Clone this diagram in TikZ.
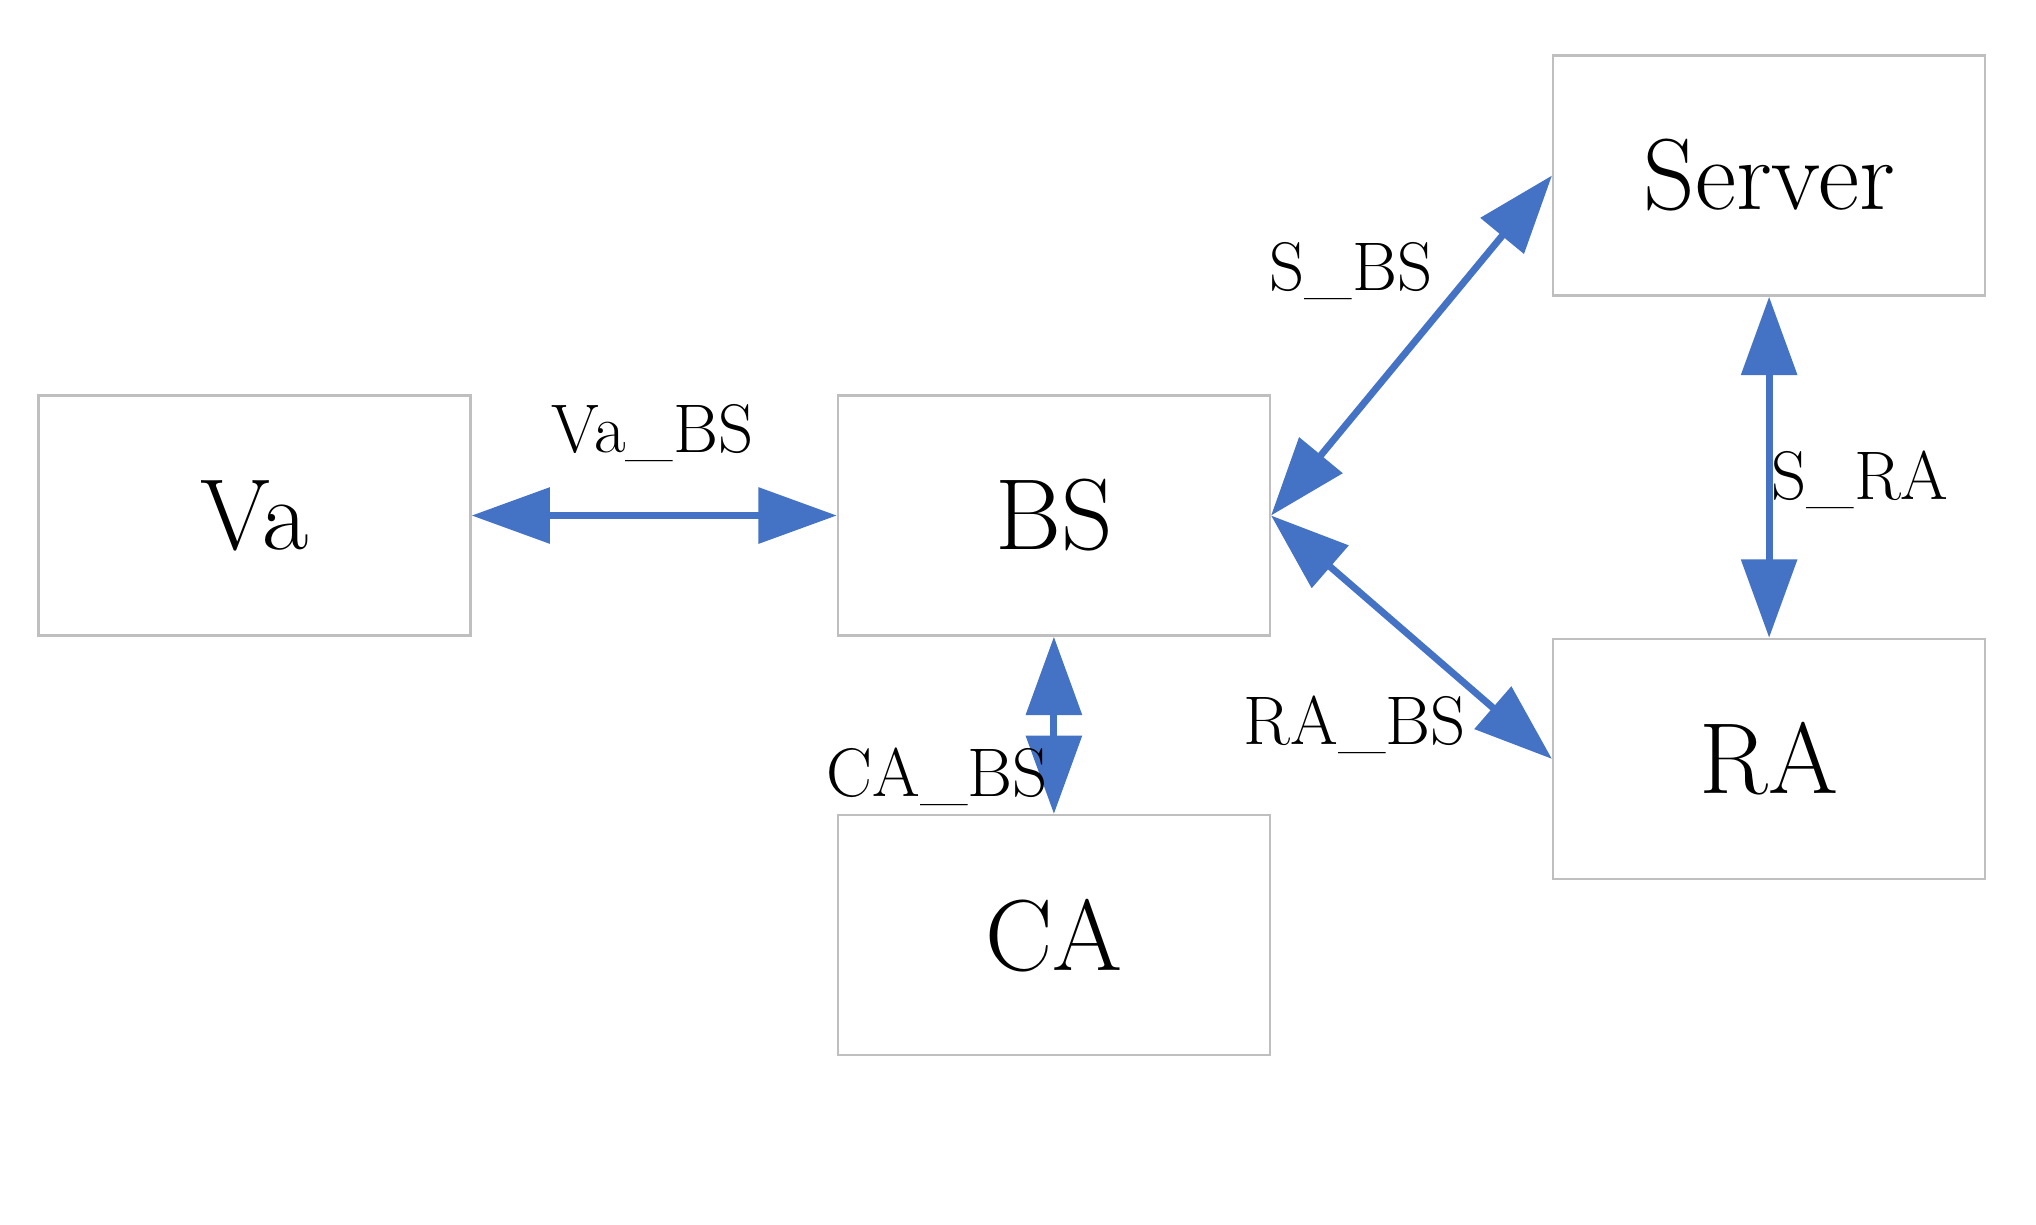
\documentclass[tikz,border=0pt]{standalone}
\usetikzlibrary{arrows.meta}
\definecolor{arr}{HTML}{4472C4}
\definecolor{bx}{HTML}{BFBFBF}
\begin{document}
\begin{tikzpicture}[x=1cm,y=1cm,
  box/.style={draw=bx,line width=0.5pt,minimum width=3.31cm,minimum height=1.84cm,inner sep=0pt,font=\fontsize{22}{26}\selectfont},
  con/.style={draw=arr,line width=1.5pt,{Triangle[length=0.6cm,width=0.42cm]}-{Triangle[length=0.6cm,width=0.42cm]}},
  lab/.style={font=\fontsize{15}{18}\selectfont}]
\useasboundingbox (0,0) rectangle (15.6,9.38);
\node[box] (va) at (1.95,5.43) {Va};
\node[box] (bs) at (8.075,5.43) {BS};
\node[box] (sv) at (13.555,8.035) {Server};
\node[box] (ra) at (13.555,3.565) {RA};
\node[box] (ca) at (8.075,0.295+1.92) {CA};
\draw[con] (va.east) -- (bs.west);
\draw[con] (bs.south) -- (ca.north);
\draw[con] (bs.east) -- (sv.west);
\draw[con] (bs.east) -- (ra.west);
\draw[con] (sv.south) -- (ra.north);
\node[lab] (l1) at (5.0,6.06) {Va\_BS};
\node[lab] (l2) at (10.35,7.3) {S\_BS};
\node[lab] (l3) at (14.25,5.7) {S\_RA};
\node[lab] (l4) at (10.38,3.83) {RA\_BS};
\node[lab] (l5) at (7.18,3.43) {CA\_BS};
\end{tikzpicture}
\end{document}
